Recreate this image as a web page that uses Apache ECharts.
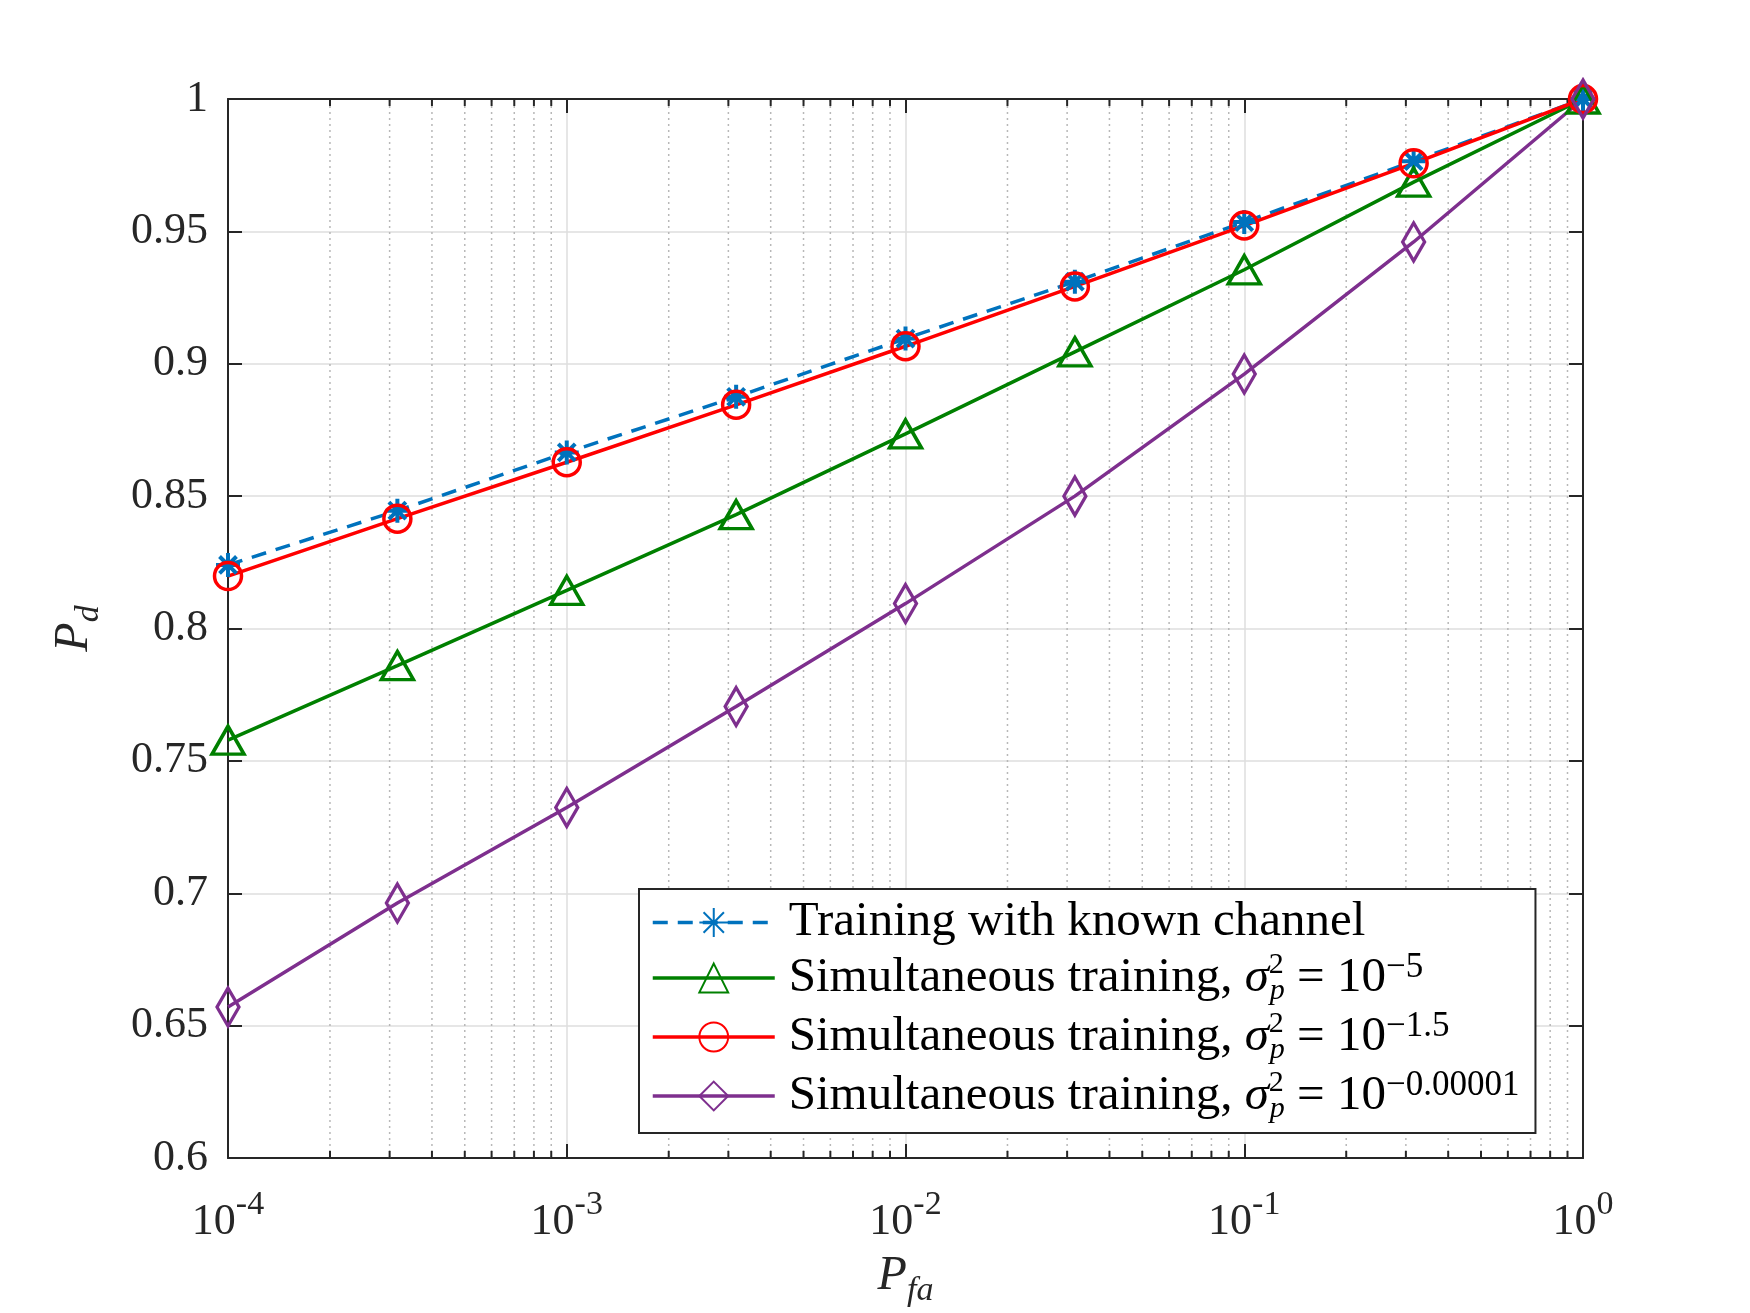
<!DOCTYPE html>
<html>
<head>
<meta charset="UTF-8" />
<title>Pd vs Pfa</title>
<script src="https://cdn.jsdelivr.net/npm/echarts@6/dist/echarts.min.js"></script>
<style>
html, body { margin: 0; padding: 0; background: #fff; }
#chart { width: 1750px; height: 1313px; }
</style>
</head>
<body>
<div id="chart"></div>
<script>
// false alarm probabilities (x), half decades
var pfa = [1e-4, 3.1623e-4, 1e-3, 3.1623e-3, 1e-2, 3.1623e-2, 1e-1, 3.1623e-1, 1];

// detection probabilities
var pdKnown   = [0.824, 0.8445, 0.8665, 0.8875, 0.9095, 0.931, 0.9535, 0.9765, 1.0];
var pdSigma5  = [0.7578, 0.786, 0.8144, 0.843, 0.8735, 0.9045, 0.9355, 0.9686, 1.0];
var pdSigma15 = [0.8198, 0.8415, 0.8628, 0.8845, 0.9066, 0.9292, 0.9522, 0.9757, 1.0];
var pdSigma0  = [0.657, 0.6963, 0.7324, 0.7705, 0.8094, 0.850, 0.8961, 0.946, 1.0];

var seriesNames = [
  "Training with known channel",
  "Simultaneous training, sigma 1e-5",
  "Simultaneous training, sigma 1e-1.5",
  "Simultaneous training, sigma 1e-0.00001"
];
var sigmaExps = ["", "\u22125", "\u22121.5", "\u22120.00001"];

var xTickLabels = ["-4", "-3", "-2", "-1", "0"];
var yTicks = { min: 0.6, max: 1, step: 0.05 };

// minor log grid positions: 2..9 x 10^k
var minorX = [];
[-4, -3, -2, -1].forEach(function (k) {
  for (var m = 2; m <= 9; m++) minorX.push([m * Math.pow(10, k), 0.6]);
});

var SERIF = "'Liberation Serif', 'DejaVu Serif', serif";
var axisColor = "#262626";
var majorGrid = "#dedede";
var asterisk = "path://M10,0L10,20M0,10L20,10M2.93,2.93L17.07,17.07M2.93,17.07L17.07,2.93";

function pairs(ys) {
  return pfa.map(function (x, i) { return [x, ys[i]]; });
}

var myChart = echarts.init(document.getElementById("chart"));

var option = {
  backgroundColor: "#fff",
  animation: false,
  grid: { left: 228, right: 167, top: 99, bottom: 150 },
  xAxis: [
    {
      type: "log", logBase: 10, min: 1e-4, max: 1,
      position: "bottom",
      axisLine: { lineStyle: { color: axisColor, width: 2 } },
      axisTick: { inside: true, length: 14, lineStyle: { color: axisColor, width: 2 } },
      axisLabel: {
        margin: 30,
        formatter: function (v, i) {
          var e = Math.round(Math.log(v) / Math.LN10);
          return "{b|10}{s|" + e + "}";
        },
        rich: {
          b: { fontFamily: SERIF, fontSize: 44, color: axisColor, lineHeight: 56, verticalAlign: "bottom" },
          s: { fontFamily: SERIF, fontSize: 34, color: axisColor, lineHeight: 56, verticalAlign: "top" }
        }
      },
      splitLine: { show: true, lineStyle: { color: majorGrid, width: 1.5 } },
      name: "{p|P}{s|fa}",
      nameLocation: "middle",
      nameGap: 94,
      nameTextStyle: {
        rich: {
          p: { fontFamily: SERIF, fontStyle: "italic", fontSize: 48, color: axisColor, lineHeight: 56, verticalAlign: "top" },
          s: { fontFamily: SERIF, fontStyle: "italic", fontSize: 34, color: axisColor, lineHeight: 56, verticalAlign: "bottom" }
        }
      }
    },
    {
      type: "log", logBase: 10, min: 1e-4, max: 1,
      position: "top",
      axisLine: { lineStyle: { color: axisColor, width: 2 } },
      axisTick: { inside: true, length: 14, lineStyle: { color: axisColor, width: 2 } },
      axisLabel: { show: false },
      splitLine: { show: false }
    }
  ],
  yAxis: [
    {
      type: "value", min: yTicks.min, max: yTicks.max, interval: yTicks.step,
      position: "left",
      axisLine: { show: true, lineStyle: { color: axisColor, width: 2 } },
      axisTick: { show: true, inside: true, length: 14, lineStyle: { color: axisColor, width: 2 } },
      axisLabel: { margin: 20, fontFamily: SERIF, fontSize: 44, color: axisColor },
      splitLine: { show: true, lineStyle: { color: majorGrid, width: 1.5 } },
      name: "{p|P}{s|d}",
      nameLocation: "middle",
      nameRotate: 90,
      nameGap: 122,
      nameTextStyle: {
        rich: {
          p: { fontFamily: SERIF, fontStyle: "italic", fontSize: 48, color: axisColor, lineHeight: 56, verticalAlign: "top" },
          s: { fontFamily: SERIF, fontStyle: "italic", fontSize: 34, color: axisColor, lineHeight: 56, verticalAlign: "bottom" }
        }
      }
    },
    {
      type: "value", min: yTicks.min, max: yTicks.max, interval: yTicks.step,
      position: "right",
      axisLine: { show: true, lineStyle: { color: axisColor, width: 2 } },
      axisTick: { show: true, inside: true, length: 14, lineStyle: { color: axisColor, width: 2 } },
      axisLabel: { show: false },
      splitLine: { show: false }
    }
  ],
  legend: {
    data: seriesNames,
    orient: "vertical",
    left: 639,
    top: 889,
    backgroundColor: "#fff",
    borderColor: axisColor,
    borderWidth: 2,
    borderRadius: 0,
    padding: [9, 16, 9, 12],
    itemWidth: 122,
    itemHeight: 36,
    itemGap: 3,
    lineStyle: { width: 3.5 },
    formatter: function (name) {
      var i = seriesNames.indexOf(name);
      if (i === 0) return "{t|Training with known channel}";
      return "{t|Simultaneous training, }{g|\u03c3}{sq|2}{sp|p}{t| = 10}{e|" + sigmaExps[i] + "}";
    },
    textStyle: {
      padding: [0, 0, 0, 9],
      rich: {
        t: { fontFamily: SERIF, fontSize: 49, color: "#000", lineHeight: 56 },
        g: { fontFamily: SERIF, fontStyle: "italic", fontSize: 49, color: "#000", lineHeight: 56 },
        sq: { fontFamily: SERIF, fontSize: 30, color: "#000", lineHeight: 22, verticalAlign: "top", width: 1 },
        sp: { fontFamily: SERIF, fontStyle: "italic", fontSize: 30, color: "#000", lineHeight: 22, verticalAlign: "bottom" },
        e: { fontFamily: SERIF, fontSize: 35, color: "#000", lineHeight: 28, verticalAlign: "top" }
      }
    }
  },
  series: [
    {
      type: "custom",
      silent: true,
      z: 1,
      data: minorX,
      renderItem: function (params, api) {
        var x = api.value(0);
        var b = api.coord([x, yTicks.min]);
        var t = api.coord([x, yTicks.max]);
        var tickStyle = { stroke: axisColor, lineWidth: 2 };
        return {
          type: "group",
          children: [
            { type: "line", shape: { x1: b[0], y1: b[1], x2: t[0], y2: t[1] },
              style: { stroke: "#b8b8b8", lineWidth: 1.5, lineDash: [2, 4] } },
            { type: "line", shape: { x1: b[0], y1: b[1], x2: b[0], y2: b[1] - 7 }, style: tickStyle },
            { type: "line", shape: { x1: t[0], y1: t[1], x2: t[0], y2: t[1] + 7 }, style: tickStyle }
          ]
        };
      }
    },
    {
      name: seriesNames[0],
      type: "line",
      data: pairs(pdKnown),
      symbol: asterisk,
      symbolSize: 24,
      lineStyle: { color: "#0072BD", width: 3.5, type: [15, 10] },
      itemStyle: { color: "#0072BD", borderColor: "#0072BD", borderWidth: 4 }
    },
    {
      name: seriesNames[1],
      type: "line",
      data: pairs(pdSigma5),
      symbol: "triangle",
      symbolSize: [32, 28],
      lineStyle: { color: "#008000", width: 3.5 },
      itemStyle: { color: "rgba(0,0,0,0)", borderColor: "#008000", borderWidth: 3.5 }
    },
    {
      name: seriesNames[2],
      type: "line",
      data: pairs(pdSigma15),
      symbol: "circle",
      symbolSize: 27,
      lineStyle: { color: "#FF0000", width: 3.5 },
      itemStyle: { color: "rgba(0,0,0,0)", borderColor: "#FF0000", borderWidth: 3.5 }
    },
    {
      name: seriesNames[3],
      type: "line",
      data: pairs(pdSigma0),
      symbol: "diamond",
      symbolSize: [22, 38],
      lineStyle: { color: "#7E2F8E", width: 3.5 },
      itemStyle: { color: "rgba(0,0,0,0)", borderColor: "#7E2F8E", borderWidth: 3.5 }
    }
  ]
};

myChart.setOption(option);
</script>
</body>
</html>
